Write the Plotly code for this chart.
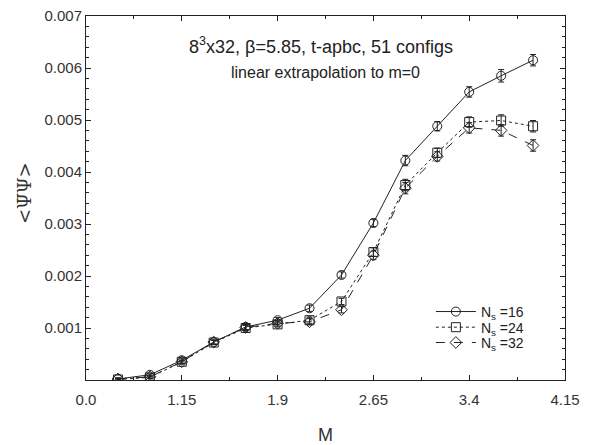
import plotly.graph_objects as go

M = [0.65, 0.9, 1.15, 1.4, 1.65, 1.9, 2.15, 2.4, 2.65, 2.9, 3.15, 3.4, 3.65, 3.9]
ns16 = [0.00002, 0.00010, 0.00038, 0.00073, 0.00102, 0.00115, 0.00138, 0.00202, 0.00302, 0.00422, 0.00488, 0.00554, 0.00585, 0.00615]
ns24 = [0.00001, 0.00005, 0.00035, 0.00072, 0.00100, 0.00107, 0.00115, 0.00151, 0.00246, 0.00375, 0.00437, 0.00496, 0.00499, 0.00488]
ns32 = [0.00002, 0.00006, 0.00035, 0.00073, 0.00101, 0.00109, 0.00112, 0.00135, 0.00240, 0.00369, 0.00430, 0.00485, 0.00480, 0.00451]
err16 = [0.00002, 0.00002, 0.00003, 0.00004, 0.00005, 0.00005, 0.00006, 0.00006, 0.00007, 0.00010, 0.00009, 0.00010, 0.00012, 0.00011]
err24 = [0.00002, 0.00002, 0.00003, 0.00004, 0.00005, 0.00005, 0.00006, 0.00006, 0.00008, 0.00011, 0.00009, 0.00010, 0.00011, 0.00011]
err32 = [0.00002, 0.00002, 0.00003, 0.00004, 0.00005, 0.00005, 0.00006, 0.00006, 0.00008, 0.00011, 0.00009, 0.00010, 0.00011, 0.00011]

xtickvals = [0.4, 1.15, 1.9, 2.65, 3.4, 4.15]
xticktext = ["0.0", "1.15", "1.9", "2.65", "3.4", "4.15"]
ytickvals = [0.001, 0.002, 0.003, 0.004, 0.005, 0.006, 0.007]
yticktext = ["0.001", "0.002", "0.003", "0.004", "0.005", "0.006", "0.007"]

FONT = "Liberation Sans, Arial, sans-serif"

series = [
    ("N<sub>s</sub> =16", ns16, err16, "circle-open", "solid", "legend", 0.187),
    ("N<sub>s</sub> =24", ns24, err24, "square-open", "dot", "legend2", 0.144),
    ("N<sub>s</sub> =32", ns32, err32, "diamond-open", "dash", "legend3", 0.102),
]

fig = go.Figure()
legends = {}
for name, y, e, sym, dash, leg, ly in series:
    fig.add_trace(go.Scatter(
        x=M, y=y, name=name, mode="lines+markers", legend=leg,
        line=dict(color="#222", width=1, dash=dash),
        marker=dict(symbol=sym, size=9, color="#222", line=dict(width=1, color="#222")),
        error_y=dict(type="data", array=e, visible=True, color="#222", thickness=1, width=3),
    ))
    legends[leg] = dict(
        x=0.72, y=ly, xanchor="left", yanchor="middle",
        bgcolor="rgba(0,0,0,0)", itemwidth=40,
        font=dict(family=FONT, size=14, color="#222"),
    )

axis_common = dict(
    showgrid=False, zeroline=False, showline=True, linecolor="#222", linewidth=1,
    mirror="allticks", ticks="inside", ticklen=5, tickcolor="#222", automargin=False,
    tickfont=dict(family=FONT, size=15, color="#333"),
)

fig.update_xaxes(
    range=[0.4, 4.15], tickvals=xtickvals, ticktext=xticktext, ticklabelstandoff=6,
    minor=dict(ticks="inside", ticklen=3, dtick=0.375, tick0=0.4, tickcolor="#222"),
    title=dict(text="M", font=dict(family=FONT, size=18, color="#333"), standoff=21),
    **axis_common,
)
fig.update_yaxes(
    range=[0, 0.007], tickvals=ytickvals, ticktext=yticktext,
    minor=dict(ticks="inside", ticklen=3, dtick=0.0002, tick0=0, tickcolor="#222"),
    **axis_common,
)

fig.add_annotation(
    x=0.49, y=0.918, xref="paper", yref="paper", showarrow=False, xanchor="center", yanchor="middle",
    text="8<sup>3</sup>x32, β=5.85, t-apbc, 51 configs",
    font=dict(family=FONT, size=18, color="#222"),
)
fig.add_annotation(
    x=0.499, y=0.846, xref="paper", yref="paper", showarrow=False, xanchor="center", yanchor="middle",
    text="linear extrapolation to m=0",
    font=dict(family=FONT, size=16, color="#222"),
)
fig.add_annotation(
    x=-0.127, y=0.514, xref="paper", yref="paper", showarrow=False, textangle=-90,
    xanchor="center", yanchor="middle",
    text="<\u03a8\u0305\u03a8>",
    font=dict(family="DejaVu Serif, serif", size=18, color="#333"),
)

fig.update_layout(
    width=595, height=445,
    margin=dict(l=86, r=30, t=16, b=65, autoexpand=False),
    paper_bgcolor="white", plot_bgcolor="white",
    showlegend=True,
    **legends,
)

fig.write_html("out.html")
